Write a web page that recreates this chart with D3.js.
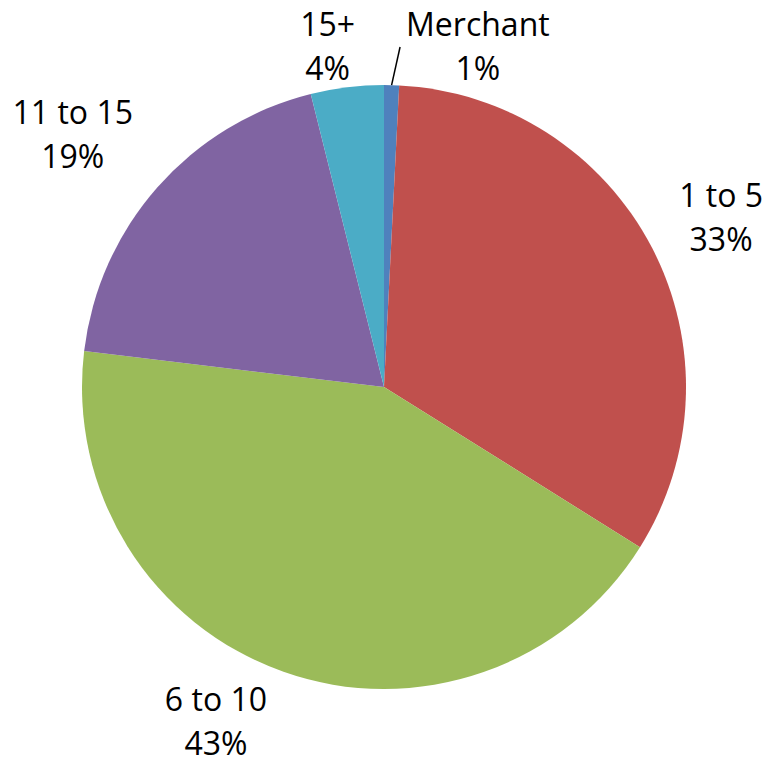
<!DOCTYPE html>
<html>
<head>
<meta charset="utf-8">
<script src="https://cdn.jsdelivr.net/npm/d3@7"></script>
<style>
  html, body { margin: 0; padding: 0; background: #fff; }
  svg { display: block; }
</style>
</head>
<body>
<svg id="chart" width="763" height="764"></svg>
<script>
// ---- data ----
const categories = ["Merchant", "1 to 5", "6 to 10", "11 to 15", "15+"];
const values = [0.8, 33.1, 43.0, 19.2, 3.9];
const colors = ["#4F81BD", "#C0504D", "#9BBB59", "#8064A2", "#4BACC6"];

// ---- layout ----
const W = 763, H = 764;
const cx = 384, cy = 387, R = 302;
const fontSize = 32, lineH = 44, boxH = 90, gap = 22;
const font = "'Open Sans', 'Liberation Sans', sans-serif";
// fine placement of the outside-end labels (layout only, pixels)
const labelShift = [[2, 4], [0, 9], [-41, 5], [-12, 14], [-11, 4]];

const svg = d3.select("#chart");
const total = d3.sum(values);
const fmt = d3.format(".0%");

const pie = d3.pie().sort(null).value(d => d.value);
const data = categories.map((c, i) => ({ name: c, value: values[i], color: colors[i] }));
const arcs = pie(data);
const arc = d3.arc().innerRadius(0).outerRadius(R);

const g = svg.append("g").attr("transform", `translate(${cx},${cy})`);
g.selectAll("path").data(arcs).join("path")
  .attr("d", arc)
  .attr("fill", d => d.data.color);

// ---- labels ----
const lg = svg.append("g");
const labels = arcs.map(a => {
  const t = lg.append("text")
    .attr("font-family", font).attr("font-size", fontSize)
    .attr("fill", "#000").attr("text-anchor", "middle");
  const l1 = t.append("tspan").text(a.data.name);
  const l2 = t.append("tspan").text(fmt(a.data.value / total));
  const w = Math.max(l1.node().getComputedTextLength(), l2.node().getComputedTextLength());
  const mid = (a.startAngle + a.endAngle) / 2;
  const ux = Math.sin(mid), uy = -Math.cos(mid);
  function distRect(px, py) {
    const dx = Math.max(Math.abs(px - cx) - w / 2, 0);
    const dy = Math.max(Math.abs(py - cy) - boxH / 2, 0);
    return Math.hypot(dx, dy);
  }
  let lo = 0, hi = 800;
  for (let k = 0; k < 60; k++) {
    const m = (lo + hi) / 2;
    if (distRect(cx + ux * m, cy + uy * m) < R + gap) lo = m; else hi = m;
  }
  let x = cx + ux * hi, y = cy + uy * hi;
  x = Math.min(Math.max(x, w / 2), W - w / 2);
  y = Math.min(Math.max(y, boxH / 2), H - boxH / 2);
  return { a, t, l1, l2, w, mid, x, y, leader: false };
});

// resolve overlaps: move smaller slice's label sideways, with a leader line
for (let i = 0; i < labels.length; i++) {
  for (let j = 0; j < labels.length; j++) {
    if (i === j) continue;
    const A = labels[i], B = labels[j];
    const ov = Math.abs(A.x - B.x) < (A.w + B.w) / 2 && Math.abs(A.y - B.y) < boxH;
    if (ov && A.a.value < B.a.value) {
      const dir = Math.sin(A.mid) >= Math.sin(B.mid) ? 1 : -1;
      A.x = B.x + dir * ((A.w + B.w) / 2 + 38);
      A.leader = true;
    }
  }
}

labels.forEach((L, i) => {
  L.x += labelShift[i][0];
  L.y += labelShift[i][1];
  const top = L.y - boxH / 2;
  L.l1.attr("x", L.x).attr("y", top + 32);
  L.l2.attr("x", L.x).attr("y", top + 32 + lineH);
  if (L.leader) {
    const px = cx + Math.sin(L.mid) * R, py = cy - Math.cos(L.mid) * R;
    const ex = L.x - L.w / 2 - 6, ey = L.y - 2;
    lg.append("line")
      .attr("x1", px).attr("y1", py).attr("x2", ex).attr("y2", ey)
      .attr("stroke", "#000").attr("stroke-width", 1.5);
  }
});
</script>
</body>
</html>
